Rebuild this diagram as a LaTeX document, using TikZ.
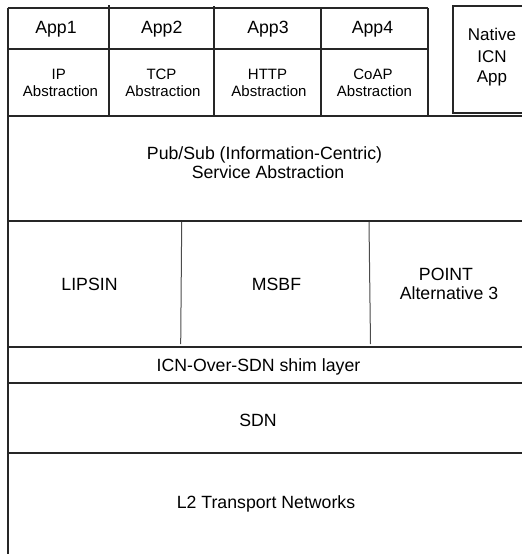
\documentclass[tikz,border=0pt]{standalone}
\usepackage{fontspec}
\setmainfont{Liberation Sans}
\begin{document}
\begin{tikzpicture}[x=1pt,y=-1pt,
  frame/.style={line width=2pt,draw=black!85},
  divider/.style={line width=1pt,draw=black!70},
  big/.style={anchor=base,inner sep=0pt,font=\fontsize{17.7}{21}\selectfont},
  small/.style={anchor=base,inner sep=0pt,font=\fontsize{15}{18}\selectfont}]
\useasboundingbox (0,0) rectangle (522,554);

% outer left border and layer separators
\draw[frame] (7.5,8) -- (7.5,554);
\draw[frame] (7.5,8) -- (428,8);
\draw[frame] (7.5,49) -- (428,49);
\foreach \y in {115.5,220.5,347,383,452.5}
  \draw[frame] (7.5,\y) -- (522,\y);

% application columns
\draw[frame] (109,5) -- (109,115.5);
\draw[frame] (214,6) -- (214,115.5);
\draw[frame] (321,8) -- (321,115.5);
\draw[frame] (428,8) -- (428,115.5);

% native ICN application box
\draw[frame] (522,6) -- (452.5,6) -- (452.5,113) -- (522,113);

% forwarding alternatives
\draw[divider] (181.7,222) -- (180.7,344);
\draw[divider] (369,222) -- (370.5,344);

% labels
\node[big] (app1) at (56,33.5) {App1};
\node[big] (app2) at (161.7,33.5) {App2};
\node[big] (app3) at (268,33.5) {App3};
\node[big] (app4) at (372.5,33.5) {App4};

\node[small] (ip1) at (58.8,79) {IP};
\node[small] (ip2) at (60.5,96.5) {Abstraction};
\node[small] (tcp1) at (161.5,79) {TCP};
\node[small] (tcp2) at (163,96.5) {Abstraction};
\node[small] (http1) at (267.5,79) {HTTP};
\node[small] (http2) at (269,96.5) {Abstraction};
\node[small] (coap1) at (373,79) {CoAP};
\node[small] (coap2) at (374.5,96.5) {Abstraction};

\node[anchor=base,inner sep=0pt,font=\fontsize{17}{20}\selectfont] (nat1) at (492,40.7) {Native};
\node[anchor=base,inner sep=0pt,font=\fontsize{17}{20}\selectfont] (nat2) at (492,62.7) {ICN};
\node[anchor=base,inner sep=0pt,font=\fontsize{17}{20}\selectfont] (nat3) at (492,82.7) {App};

\node[big] (ps1) at (264.5,159.5) {Pub/Sub (Information-Centric)};
\node[big] (ps2) at (268,178) {Service Abstraction};

\node[big] (lipsin) at (89.5,290) {LIPSIN};
\node[big] (msbf) at (276.5,290) {MSBF};
\node[big] (point1) at (446,280) {POINT};
\node[big] (point2) at (449,299) {Alternative 3};

\node[big] (shim) at (258.5,371.7) {ICN-Over-SDN shim layer};
\node[big] (sdn) at (258,426) {SDN};
\node[big] (l2) at (266,508.3) {L2 Transport Networks};
\end{tikzpicture}
\end{document}
